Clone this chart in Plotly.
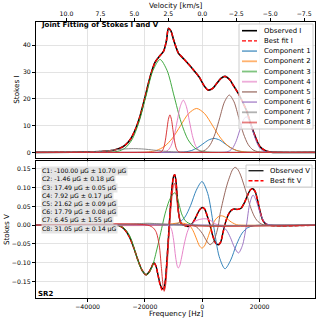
import plotly.graph_objects as go

# ---------------- data ----------------
freq_ticks = [-40000, -20000, 0, 20000]
freq_tick_labels = ["\u221240000", "\u221220000", "0", "20000"]
vel_ticks = [10.0, 7.5, 5.0, 2.5, 0.0, -2.5, -5.0, -7.5]
vel_tick_labels = ["10.0", "7.5", "5.0", "2.5", "0.0", "\u22122.5", "\u22125.0", "\u22127.5"]
i_ticks = [0, 10, 20, 30, 40]
v_ticks = [-0.15, -0.10, -0.05, 0.0, 0.05, 0.10, 0.15]
v_tick_labels = ["\u22120.15", "\u22120.10", "\u22120.05", "0.00", "0.05", "0.10", "0.15"]

component_names = ["Component 1", "Component 2", "Component 3", "Component 4",
                   "Component 5", "Component 6", "Component 7", "Component 8"]
b_field = [-100.00, -1.46, 17.49, 7.92, 21.62, 17.79, 6.45, 31.05]
b_error = [10.70, 0.18, 0.05, 0.17, 0.09, 0.08, 1.55, 0.14]

# Observed / best fit Stokes I
obs_i_freq = [-58000, -45000, -38000, -34000, -31000, -29000, -27000, -25000, -23000, -21700,
              -20000, -18200, -16500, -15000, -13500, -12500, -11800, -11000, -10000, -9000,
              -8300, -7000, -5000, -3000, -1000, 500, 2000, 3500, 5000, 6500,
              7900, 9500, 11000, 12500, 14000, 15500, 17000, 18500, 20000, 22000,
              24000, 26000, 39300]
obs_i = [0, 0.05, 0.2, 0.4, 0.8, 1.4, 2.6, 5.0, 9.5, 13.6,
         20.5, 28.2, 33.6, 35.8, 37.8, 41.8, 46.3, 45.5, 42.0, 38.8,
         37.0, 35.5, 33.2, 30.7, 28.0, 25.1, 23.3, 23.8, 25.7, 27.6,
         28.4, 27.2, 24.7, 22.1, 18.9, 15.4, 10.2, 5.8, 2.3, 0.6,
         0.1, 0, 0]
fit_i_freq = obs_i_freq
fit_i = obs_i

# Stokes I components
c1_i_freq = [-58000, -11500, -9550, -7600, -5650, -3700, -1750, 200, 2150, 4100, 6050, 8000, 9950, 11900, 13850, 15800, 17750, 19700, 39300]
c1_i = [0, 0, 0.01, 0.06, 0.23, 0.70, 1.69, 3.15, 4.59, 5.2, 4.59, 3.15, 1.69, 0.70, 0.23, 0.06, 0.01, 0, 0]
c2_i_freq = [-58000, -24400, -21600, -18800, -16000, -13200, -10400, -7600, -4800, -2000, 800, 3600, 6400, 9200, 12000, 14800, 17600, 20400, 39300]
c2_i = [0, 0, 0.04, 0.18, 0.72, 2.22, 5.32, 9.95, 14.47, 16.4, 14.47, 9.95, 5.32, 2.22, 0.72, 0.18, 0.04, 0, 0]
c3_i_freq = [-58000, -34350, -31900, -29450, -27000, -24550, -22100, -19650, -17200, -14750, -12300, -9850, -7400, -4950, -2500, -50, 2400, 4850, 39300]
c3_i = [0, 0, 0.08, 0.39, 1.52, 4.69, 11.27, 21.05, 30.62, 34.7, 30.62, 21.05, 11.27, 4.69, 1.52, 0.39, 0.08, 0, 0]
c4_i_freq = [-58000, -15030, -13980, -12930, -11880, -10830, -9780, -8730, -7680, -6630, -5580, -4530, -3480, -2430, -1380, -330, 720, 1770, 39300]
c4_i = [0, 0, 0.04, 0.22, 0.86, 2.64, 6.33, 11.83, 17.21, 19.5, 17.21, 11.83, 6.33, 2.64, 0.86, 0.22, 0.04, 0, 0]
c5_i_freq = [-58000, -3800, -2150, -500, 1150, 2800, 4450, 6100, 7750, 9400, 11050, 12700, 14350, 16000, 17650, 19300, 20950, 22600, 39300]
c5_i = [0, 0, 0.05, 0.24, 0.94, 2.90, 6.95, 12.98, 18.89, 21.4, 18.89, 12.98, 6.95, 2.90, 0.94, 0.24, 0.05, 0, 0]
c6_i_freq = [-58000, 6100, 7250, 8400, 9550, 10700, 11850, 13000, 14150, 15300, 16450, 17600, 18750, 19900, 21050, 22200, 23350, 24500, 39300]
c6_i = [0, 0, 0.03, 0.15, 0.58, 1.80, 4.32, 8.07, 11.74, 13.3, 11.74, 8.07, 4.32, 1.80, 0.58, 0.15, 0.03, 0, 0]
c7_i_freq = [-58000, -52000, -48500, -45000, -41500, -38000, -34500, -31000, -27500, -24000, -20500, -17000, -13500, -10000, -6500, -3000, 500, 4000, 39300]
c7_i = [0, 0, 0, 0.02, 0.06, 0.19, 0.45, 0.85, 1.24, 1.4, 1.24, 0.85, 0.45, 0.19, 0.06, 0.02, 0, 0, 0]
c8_i_freq = [-58000, -15500, -14975, -14450, -13925, -13400, -12875, -12350, -11825, -11300, -10775, -10250, -9725, -9200, -8675, -8150, -7625, -7100, 39300]
c8_i = [0, 0, 0.03, 0.16, 0.61, 1.89, 4.55, 8.49, 12.36, 14.0, 12.36, 8.49, 4.55, 1.89, 0.61, 0.16, 0.03, 0, 0]

# Observed / best fit Stokes V
fit_v_freq = [-58000, -30000, -28500, -27000, -25500, -24000, -22500, -21000, -19600, -18500,
              -17600, -16900, -16200, -15400, -14600, -13900, -13400, -12900, -12300, -11700,
              -11100, -10500, -10000, -9600, -9200, -8800, -8300, -7700, -7100, -6000,
              -5000, -4000, -3000, -2000, -1000, 0, 800, 1700, 2700, 3700,
              4700, 5600, 6400, 7200, 8200, 9200, 10200, 11200, 12300, 13500,
              14700, 15800, 16800, 17600, 18400, 19300, 20200, 21100, 22000, 23000, 39300]
fit_v = [0, 0, -0.003, -0.012, -0.030, -0.058, -0.092, -0.120, -0.132, -0.124,
         -0.110, -0.100, -0.108, -0.135, -0.162, -0.174, -0.172, -0.150, -0.090, -0.020,
         0.050, 0.105, 0.130, 0.134, 0.118, 0.080, 0.035, 0.010, 0.002, -0.001,
         -0.004, 0.0, 0.010, 0.025, 0.040, 0.047, 0.043, 0.025, 0.0, -0.030,
         -0.048, -0.052, -0.045, -0.020, 0.010, 0.030, 0.040, 0.043, 0.042, 0.045,
         0.060, 0.080, 0.094, 0.097, 0.090, 0.065, 0.035, 0.013, 0.004, 0, 0]
obs_v_freq = fit_v_freq
obs_v = [0, 0, -0.003, -0.012, -0.030, -0.058, -0.092, -0.120, -0.132, -0.124,
         -0.110, -0.100, -0.108, -0.134, -0.160, -0.169, -0.168, -0.148, -0.090, -0.020,
         0.050, 0.105, 0.130, 0.134, 0.118, 0.080, 0.035, 0.010, 0.002, -0.001,
         -0.004, 0.0, 0.010, 0.025, 0.040, 0.047, 0.043, 0.025, 0.0, -0.030,
         -0.048, -0.052, -0.045, -0.020, 0.010, 0.030, 0.040, 0.043, 0.042, 0.045,
         0.060, 0.080, 0.094, 0.097, 0.090, 0.065, 0.035, 0.013, 0.004, 0, 0]

# Stokes V components
c1_v_freq = [-58000, -12100, -10100, -8100, -6100, -4100, -2100, -100, 1900, 3900, 5900, 7900, 9900, 11900, 13900, 15900, 17900, 19900, 39300]
c1_v = [0, 0, 0.0015, 0.0064, 0.021, 0.052, 0.093, 0.116, 0.084, 0, -0.084, -0.116, -0.093, -0.052, -0.021, -0.0064, -0.0015, 0, 0]
c2_v_freq = [-58000, -14000, -11000, -8000, -6000, -4500, -3200, -2000, -1000, -150, 700, 1700, 2700, 3500, 4500, 5500, 6600, 7600, 8600, 9600, 10600, 12000, 13500, 39300]
c2_v = [0, 0, 0.003, 0.006, 0.004, 0, -0.015, -0.037, -0.055, -0.061, -0.056, -0.038, -0.016, 0.0, 0.014, 0.022, 0.025, 0.023, 0.018, 0.011, 0.006, 0.001, 0, 0]
c3_v_freq = [-58000, -30000, -28700, -27000, -25200, -22900, -21150, -19400, -17650, -15900, -14500, -13000, -11500, -10200, -9500, -8800, -8000, -7200, -6300, -5400, -4000, -2500, 39300]
c3_v = [0, 0, -0.002, -0.010, -0.030, -0.083, -0.119, -0.132, -0.114, -0.066, -0.020, 0.030, 0.066, 0.083, 0.086, 0.075, 0.052, 0.030, 0.016, 0.008, 0.003, 0, 0]
c4_v_freq = [-58000, -16000, -13000, -11500, -10700, -10000, -9300, -8700, -8370, -7900, -7200, -6300, -5300, -4300, -3000, -1500, 500, 2000, 3000, 4000, 5000, 6500, 39300]
c4_v = [0, 0, 0.001, -0.002, -0.012, -0.040, -0.085, -0.110, -0.114, -0.108, -0.085, -0.050, -0.020, -0.002, 0.008, 0.014, 0.017, 0.016, 0.012, 0.006, 0.002, 0, 0]
c5_v_freq = [-58000, -4000, -2000, 0, 1500, 2700, 3800, 4800, 5600, 6200, 7000, 7900, 8800, 9700, 10500, 11400, 12300, 13200, 14300, 15400, 16300, 17200, 18100, 19000, 20000, 21300, 22500, 39300]
c5_v = [0, 0, -0.005, -0.022, -0.042, -0.052, -0.045, -0.025, 0.0, 0.030, 0.058, 0.087, 0.112, 0.132, 0.147, 0.154, 0.149, 0.136, 0.112, 0.085, 0.060, 0.040, 0.024, 0.013, 0.006, 0.001, 0, 0]
c6_v_freq = [-58000, 4200, 5600, 7000, 8400, 9800, 11200, 12600, 14000, 15400, 16550, 17700, 18850, 20000, 21150, 22300, 23450, 24600, 39300]
c6_v = [0, 0, -0.001, -0.004, -0.013, -0.033, -0.059, -0.074, -0.054, 0, 0.058, 0.080, 0.064, 0.036, 0.015, 0.004, 0.001, 0, 0]
c7_v_freq = [-58000, -40000, -34000, -30000, -26000, -22000, -19000, -16000, -12000, -8000, 39300]
c7_v = [0, 0, -0.001, 0, 0.002, 0.004, 0.005, 0.004, 0.002, 0, 0]
c8_v_freq = [-58000, -19000, -17000, -16000, -15000, -14300, -13700, -13300, -12800, -12300, -11800, -11200, -10600, -10100, -9700, -9300, -8800, -8100, -7300, -6000, 39300]
c8_v = [0, 0, -0.008, -0.020, -0.055, -0.110, -0.160, -0.176, -0.160, -0.115, -0.050, 0.020, 0.075, 0.105, 0.112, 0.098, 0.060, 0.022, 0.005, 0, 0]

# ---------------- figure ----------------
F_RANGE = [-58000, 39300]
F0_HZ = 1420405751.77
C_KMS = 299792.458
vel_tick_freqs = [-v * F0_HZ / C_KMS for v in vel_ticks]

colors = ["#1f77b4", "#ff7f0e", "#2ca02c", "#e377c2", "#8c564b", "#9467bd", "#7f7f7f", "#d62728"]
comp_i = [(c1_i_freq, c1_i), (c2_i_freq, c2_i), (c3_i_freq, c3_i), (c4_i_freq, c4_i),
          (c5_i_freq, c5_i), (c6_i_freq, c6_i), (c7_i_freq, c7_i), (c8_i_freq, c8_i)]
comp_v = [(c1_v_freq, c1_v), (c2_v_freq, c2_v), (c3_v_freq, c3_v), (c4_v_freq, c4_v),
          (c5_v_freq, c5_v), (c6_v_freq, c6_v), (c7_v_freq, c7_v), (c8_v_freq, c8_v)]

fig = go.Figure()


def add_line(x, y, color, width, xa, ya, dash="solid", opacity=1.0):
    fig.add_trace(go.Scatter(
        x=x, y=y, mode="lines", xaxis=xa, yaxis=ya, opacity=opacity,
        line=dict(color=color, width=width, dash=dash, shape="spline", smoothing=0.8),
        showlegend=False, hoverinfo="skip"))


# top panel
add_line(obs_i_freq, obs_i, "black", 1.6, "x", "y")
add_line(fit_i_freq, fit_i, "#ff0000", 1.4, "x", "y", dash="4px,2px")
for (fx, fy), col in zip(comp_i, colors):
    add_line(fx, fy, col, 1.0, "x", "y", opacity=0.9)
# invisible trace to activate the velocity axis
fig.add_trace(go.Scatter(x=[F_RANGE[0]], y=[0], xaxis="x3", yaxis="y", mode="markers",
                         marker=dict(opacity=0), showlegend=False, hoverinfo="skip"))

# bottom panel
add_line(obs_v_freq, obs_v, "black", 1.4, "x2", "y2")
add_line(fit_v_freq, fit_v, "#ff0000", 1.5, "x2", "y2", dash="4px,2px")
for (fx, fy), col in zip(comp_v, colors):
    add_line(fx, fy, col, 1.0, "x2", "y2", opacity=0.9)

TICK_FONT = dict(family="DejaVu Sans", size=6.2, color="black")
TITLE_FONT = dict(family="DejaVu Sans", size=7.2, color="black")
axis_common = dict(showline=True, linecolor="black", linewidth=1, ticks="outside", ticklen=3,
                   tickwidth=1, tickcolor="black", zeroline=False, gridcolor="#dcdcdc",
                   gridwidth=0.8, tickfont=TICK_FONT, automargin=False, color="black")

TOP_DOM = [0.5083, 1.0]
BOT_DOM = [0.0, 0.4964]

fig.update_layout(
    width=319, height=321, margin=dict(l=36, r=4, t=22, b=23),
    paper_bgcolor="white", plot_bgcolor="white", showlegend=False,
    font=dict(family="DejaVu Sans", size=6.2, color="black"),
    xaxis=dict(axis_common, domain=[0, 1], anchor="y", range=F_RANGE, tickvals=freq_ticks,
               showticklabels=False, showgrid=True),
    yaxis=dict(axis_common, domain=TOP_DOM, anchor="x", range=[-2.0, 48.7], tickvals=i_ticks,
               ticktext=[str(t) for t in i_ticks], mirror=True),
    xaxis2=dict(axis_common, domain=[0, 1], anchor="y2", range=F_RANGE, tickvals=freq_ticks,
                ticktext=freq_tick_labels, mirror=True),
    yaxis2=dict(axis_common, domain=BOT_DOM, anchor="x2", range=[-0.1938, 0.1707], tickvals=v_ticks,
                ticktext=v_tick_labels, mirror=True),
    xaxis3=dict(axis_common, overlaying="x", side="top", anchor="y", range=F_RANGE,
                tickvals=vel_tick_freqs, ticktext=vel_tick_labels, showgrid=False),
)

# ---- pixel -> paper helpers (plot area: x 36..315, y 22..298) ----
def px(x):
    return (x - 36.0) / 279.0


def py(y):
    return (298.0 - y) / 276.0


shapes = []
annotations = []

# axis titles
annotations.append(dict(x=px(17), y=py(89.7), xref="paper", yref="paper", xanchor="center",
                        yanchor="middle", showarrow=False, text="Stokes I", textangle=-90,
                        font=TITLE_FONT))
annotations.append(dict(x=px(6.5), y=py(229.6), xref="paper", yref="paper", xanchor="center",
                        yanchor="middle", showarrow=False, text="Stokes V", textangle=-90,
                        font=TITLE_FONT))
annotations.append(dict(x=px(175.5), y=py(313.3), xref="paper", yref="paper", xanchor="center",
                        yanchor="middle", showarrow=False, text="Frequency [Hz]", font=TITLE_FONT))
annotations.append(dict(x=px(175.5), y=py(6.0), xref="paper", yref="paper", xanchor="center",
                        yanchor="middle", showarrow=False, text="Velocity [km/s]", font=TITLE_FONT))

# Title inside the top panel
annotations.append(dict(x=px(38.5), y=py(25.3), xref="paper", yref="paper", xanchor="left",
                        yanchor="middle", showarrow=False,
                        text="<b>Joint Fitting of Stokes I and V</b>",
                        font=dict(family="DejaVu Sans", size=7.0, color="black")))
# Panel tag
annotations.append(dict(x=px(36.3), y=py(294.3), xref="paper", yref="paper", xanchor="left",
                        yanchor="middle", showarrow=False, text="<b>SR2</b>",
                        font=dict(family="DejaVu Sans", size=7.0, color="black")))

# Magnetic field labels
for k, (b, e) in enumerate(zip(b_field, b_error)):
    annotations.append(dict(
        x=px(40.5), y=py(171.2 + 8.2 * k), xref="paper", yref="paper", xanchor="left",
        yanchor="middle", showarrow=False, text=f"C{k + 1}: {b:.2f} \u03bcG \u00b1 {e:.2f} \u03bcG",
        font=dict(family="DejaVu Sans", size=6.2, color="black"),
        bgcolor="rgba(225,225,225,0.85)", borderpad=0))

LEG_FONT = dict(family="DejaVu Sans", size=6.9, color="black")


def legend(box, entries, y0, dy, lx0, lx1, tx):
    shapes.append(dict(type="rect", xref="paper", yref="paper", x0=px(box[0]), x1=px(box[1]),
                       y0=py(box[3]), y1=py(box[2]), fillcolor="rgba(255,255,255,0.8)",
                       line=dict(color="#cccccc", width=1), layer="above"))
    for k, (label, col, dash, w, op) in enumerate(entries):
        yy = py(y0 + dy * k)
        shapes.append(dict(type="line", xref="paper", yref="paper", x0=px(lx0), x1=px(lx1),
                           y0=yy, y1=yy, line=dict(color=col, width=w, dash=dash),
                           opacity=op, layer="above"))
        annotations.append(dict(x=px(tx), y=yy, xref="paper", yref="paper", xanchor="left",
                                yanchor="middle", showarrow=False, text=label, font=LEG_FONT))


top_entries = [("Observed I", "black", "solid", 1.6, 1.0), ("Best fit I", "#ff0000", "4px,2px", 1.4, 1.0)]
top_entries += [(n, c, "solid", 1.8, 0.6) for n, c in zip(component_names, colors)]
legend((239, 313, 24, 129), top_entries, 30.7, 10.2, 242, 257, 261.5)
legend((246, 312, 165, 187), [("Observed V", "#222222", "solid", 1.4, 1.0),
                              ("Best fit V", "#ff0000", "4px,2px", 1.4, 1.0)],
       170.7, 10.0, 248.5, 263.5, 268)

fig.update_layout(shapes=shapes, annotations=annotations)
fig.write_html("out.html", config=dict(displayModeBar=False, staticPlot=True),
               post_script="document.body.style.margin='0px';")
